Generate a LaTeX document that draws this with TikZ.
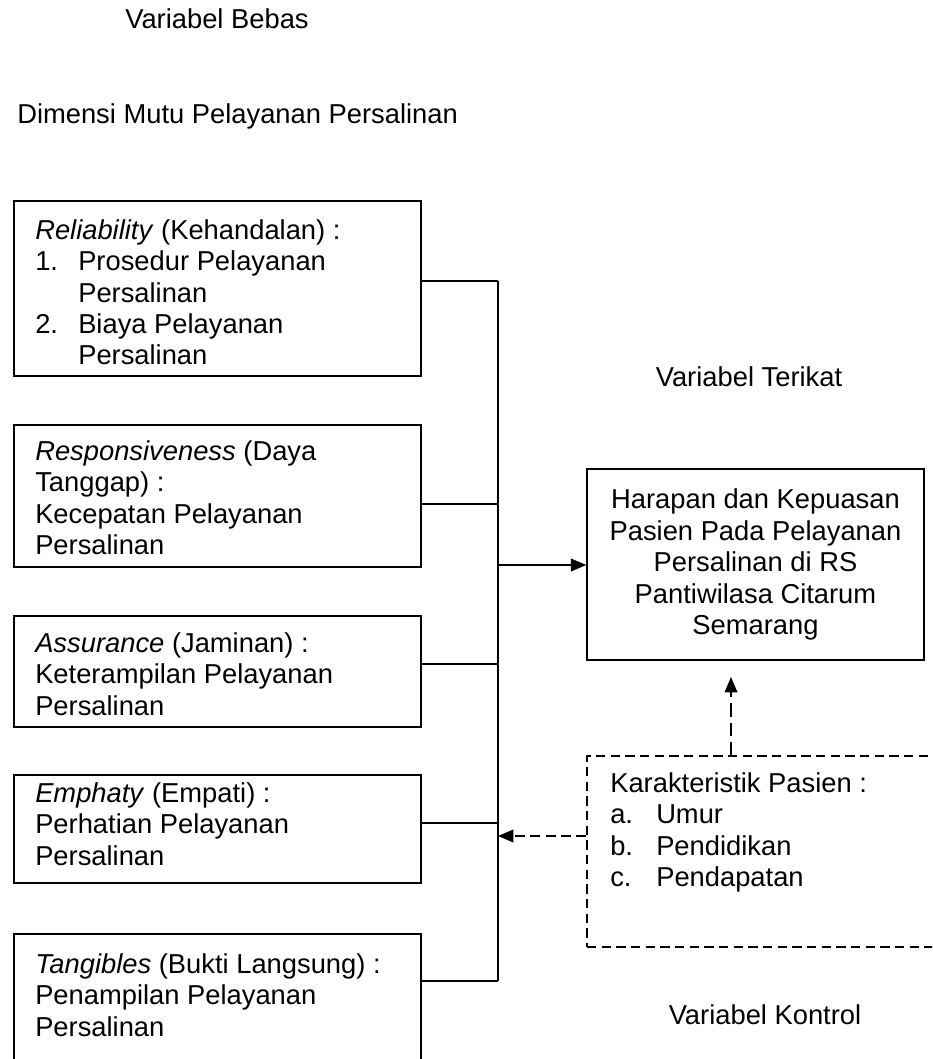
\documentclass[tikz,border=0pt]{standalone}
\usepackage{fontspec}
\setmainfont{Liberation Sans}
\usetikzlibrary{arrows.meta,fit}
\newcommand\numlab[1]{\makebox[32.25pt][l]{#1}}
\newcommand\letlab[1]{\makebox[34.5pt][l]{#1}}
\begin{document}
\begin{tikzpicture}[x=0.75pt,y=-0.75pt,
  box/.style={draw, line width=1.1pt, inner sep=0pt},
  dbox/.style={draw, line width=1.1pt, inner sep=0pt, dash pattern=on 7pt off 4pt},
  txt/.style={inner sep=0pt, align=left, anchor=north west, font=\fontsize{20.5pt}{23.6pt}\selectfont},
  lbl/.style={inner sep=0pt, anchor=base, font=\fontsize{20.5pt}{23.6pt}\selectfont},
  ln/.style={line width=1.1pt},
  arr/.style={-{Triangle[length=11.5pt,width=9.5pt]}},
  darrv/.style={line width=1.1pt, dash pattern=on 10pt off 4.5pt},
  darrh/.style={line width=1.1pt, dash pattern=on 7.5pt off 4pt}]
\useasboundingbox (0,0) rectangle (932,1059);
\clip (0,0) rectangle (932,1059);

% titles
\node[lbl] (vb) at (217,29) {Variabel Bebas};
\node[lbl, anchor=base west] (dm) at (17,124) {Dimensi Mutu Pelayanan Persalinan};
\node[lbl] (vt) at (749,386) {Variabel Terikat};
\node[lbl] (vk) at (765,1024) {Variabel Kontrol};

% boxes
\node[box, fit={(14,201) (421,376)}] (b1) {};
\node[box, fit={(14,425) (421,567)}] (b2) {};
\node[box, fit={(14,616) (421,727)}] (b3) {};
\node[box, fit={(14,775) (421,883)}] (b4) {};
\node[box, fit={(14,934) (421,1100)}] (b5) {};
\node[box, fit={(587,469) (924,660)}] (h) {};
\node[dbox, fit={(587,756) (970,947)}] (k) {};

% texts
\node[txt] (t1) at (35,219) {\textit{Reliability} (Kehandalan) :\\
\numlab{1.}Prosedur Pelayanan\\
\hspace*{32.25pt}Persalinan\\
\numlab{2.}Biaya Pelayanan\\
\hspace*{32.25pt}Persalinan};
\node[txt] (t2) at (35,440) {\textit{Responsiveness} (Daya\\ Tanggap) :\\ Kecepatan Pelayanan\\ Persalinan};
\node[txt] (t3) at (35,632) {\textit{Assurance} (Jaminan) :\\ Keterampilan Pelayanan\\ Persalinan};
\node[txt] (t4) at (35,782) {\textit{Emphaty} (Empati) :\\ Perhatian Pelayanan\\ Persalinan};
\node[txt] (t5) at (35,953) {\textit{Tangibles} (Bukti Langsung) :\\ Penampilan Pelayanan\\ Persalinan};
\node[txt, align=center, anchor=center] (ht) at (h.center) {Harapan dan Kepuasan\\ Pasien Pada Pelayanan\\ Persalinan di RS\\ Pantiwilasa Citarum\\ Semarang};
\node[txt] (tk) at (610,772) {Karakteristik Pasien :\\
\letlab{a.}Umur\\
\letlab{b.}Pendidikan\\
\letlab{c.}Pendapatan};

% junctions on the bus
\coordinate (j1) at (498,281);
\coordinate (j2) at (498,504);
\coordinate (j3) at (498,664);
\coordinate (j4) at (498,823);
\coordinate (j5) at (498,981);
\coordinate (jh) at (498,565);
\coordinate (jk) at (498,836);
\coordinate (ha) at (731,677);

\draw[ln] (j1) -- (j5);
\draw[ln] (b1.east |- j1) -- (j1);
\draw[ln] (b2.east |- j2) -- (j2);
\draw[ln] (b3.east |- j3) -- (j3);
\draw[ln] (b4.east |- j4) -- (j4);
\draw[ln] (b5.east |- j5) -- (j5);
\draw[ln, arr] (jh) -- (h.west |- jh);
\draw[darrv, arr] (k.north -| ha) -- (ha);
\draw[darrh, arr] (k.west |- jk) -- (jk);
\end{tikzpicture}
\end{document}
